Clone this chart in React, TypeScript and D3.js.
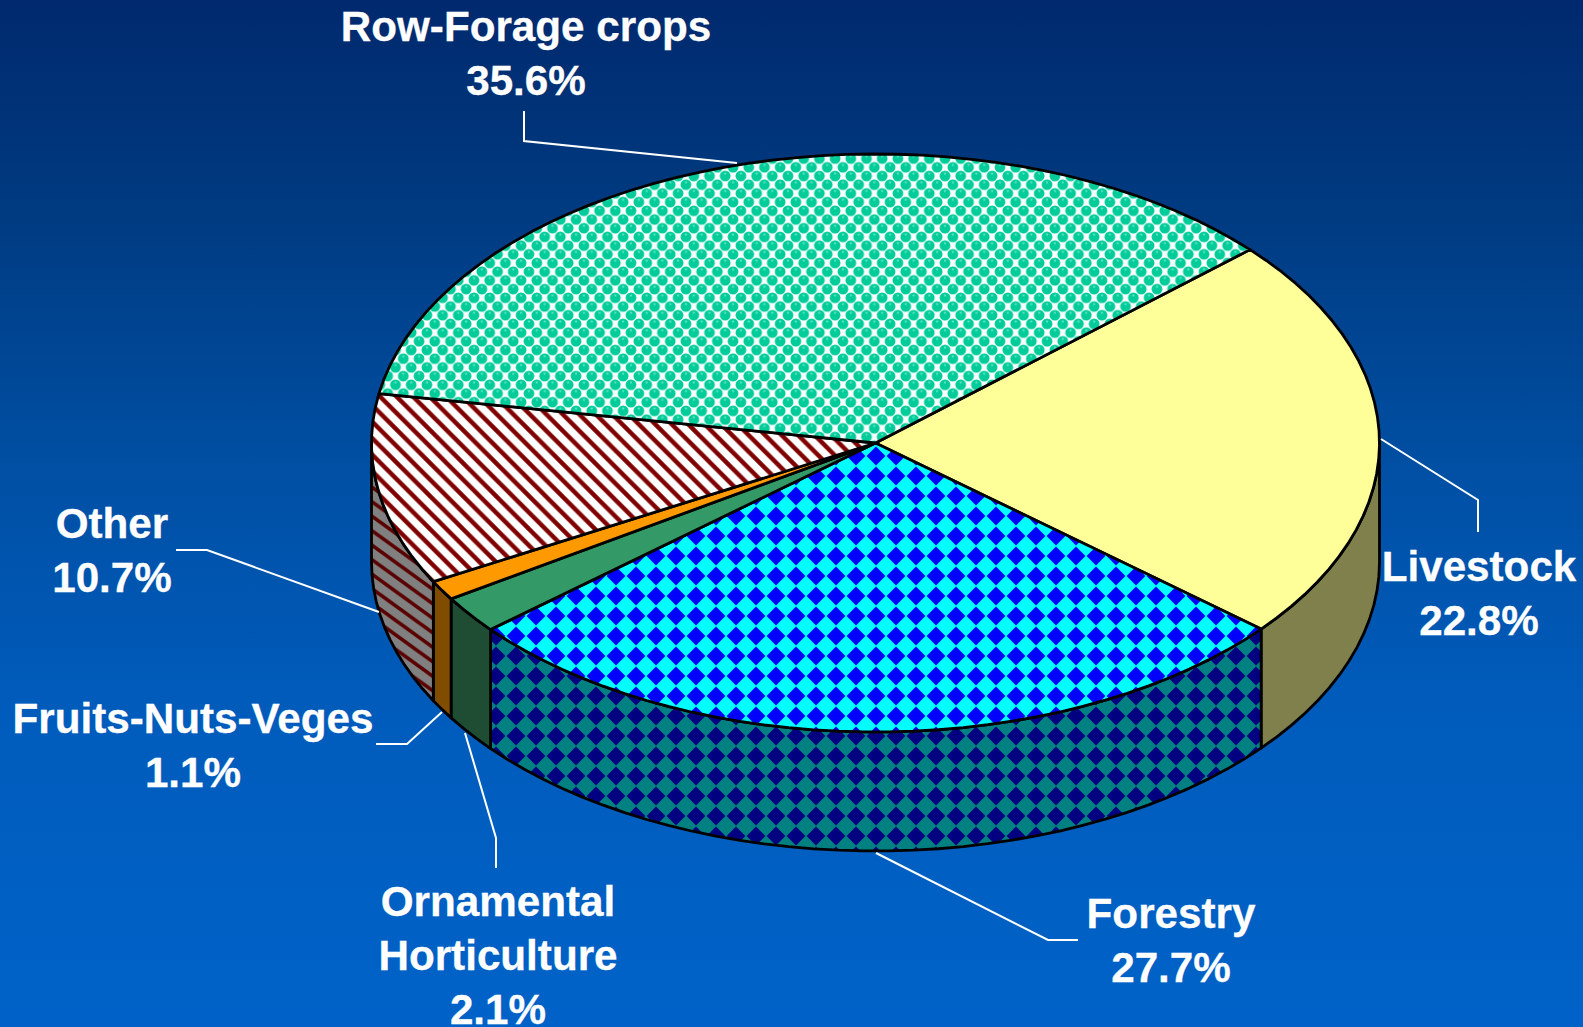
import React from "react";
import * as d3 from "d3";

const categories = ["Livestock", "Forestry", "Ornamental Horticulture", "Fruits-Nuts-Veges", "Other", "Row-Forage crops"];
const shares = [22.8, 27.7, 2.1, 1.1, 10.7, 35.6];
const topFills = ["#ffff99", "url(#diamondTop)", "#339966", "#ff9900", "url(#hatchTop)", "url(#bubbles)"];
const sideFills = ["#80804d", "url(#diamondSide)", "#1f4d33", "#804d00", "url(#hatchSide)", "#006650"];

const labelLines = [
  ["Livestock", "22.8%"],
  ["Forestry", "27.7%"],
  ["Ornamental", "Horticulture", "2.1%"],
  ["Fruits-Nuts-Veges", "1.1%"],
  ["Other", "10.7%"],
  ["Row-Forage crops", "35.6%"],
];
const labelX = [1479, 1171, 498, 193, 112, 526];
const labelY = [581, 928, 916, 733, 538, 41];
const leaders: [number, number][][] = [
  [[1381, 439], [1478, 500], [1478, 532]],
  [[876, 853], [1048, 940], [1078, 940]],
  [[465, 733], [496, 838], [496, 868]],
  [[376, 744], [407, 744], [442, 712]],
  [[176, 550], [207, 550], [379, 612]],
  [[524, 111], [524, 141], [737, 163]],
];

const W = 1583, H = 1027;
const CX = 875.5, CY = 443, RX = 504, RY = 289, DEPTH = 119;
const START = (48 * Math.PI) / 180;

const xAt = d3.scaleLinear().domain([-1, 1]).range([CX - RX, CX + RX]);
const yAt = d3.scaleLinear().domain([-1, 1]).range([CY + RY, CY - RY]);
const pt = (a: number, dz = 0): [number, number] => [xAt(Math.sin(a)), yAt(Math.cos(a)) + dz];
const line = d3.line();

const arcPts = (a0: number, a1: number, dz = 0) => {
  const n = Math.max(2, Math.ceil((a1 - a0) / 0.05));
  return d3.range(n + 1).map((i) => pt(a0 + ((a1 - a0) * i) / n, dz));
};

const BW = 15.7, BH = 17.4;
const DW = 20, DH = 20, DR = 9.4;
const diamond = `M${DW / 2} ${DH / 2 - DR}L${DW / 2 + DR} ${DH / 2}L${DW / 2} ${DH / 2 + DR}L${DW / 2 - DR} ${DH / 2}Z`;
const SW = 20, SH = 14.5;

export default function App() {
  const arcs = d3.pie<number>().sort(null).startAngle(START).endAngle(START + 2 * Math.PI)(shares);
  const frontA = Math.PI / 2, frontB = (3 * Math.PI) / 2;
  const ink = { stroke: "#000", strokeWidth: 2.8, strokeLinejoin: "round" as const };
  return (
    <svg width={W} height={H} style={{ position: "absolute", left: 0, top: 0, display: "block" }}>
      <defs>
        <linearGradient id="bg" x1="0" y1="0" x2="0" y2="1">
          <stop offset="0" stopColor="#00296e" />
          <stop offset="0.2" stopColor="#003a80" />
          <stop offset="0.45" stopColor="#004fa3" />
          <stop offset="0.7" stopColor="#005cbc" />
          <stop offset="1" stopColor="#0062c8" />
        </linearGradient>
        <radialGradient id="ball" cx="0.5" cy="0.28" r="0.72">
          <stop offset="0" stopColor="#7fecd0" />
          <stop offset="0.22" stopColor="#00cc99" />
          <stop offset="1" stopColor="#00cc99" />
        </radialGradient>
        <pattern id="bubbles" width={BW} height={BH} patternUnits="userSpaceOnUse" x="3" y="2">
          <rect width={BW} height={BH} fill="#fff" />
          {[[0, 0], [BW, 0], [0, BH], [BW, BH], [BW / 2, BH / 2]].map(([x, y], i) => (
            <circle key={i} cx={x} cy={y} r={5.4} fill="url(#ball)" />
          ))}
        </pattern>
        <pattern id="diamondTop" width={DW} height={DH} patternUnits="userSpaceOnUse" x="6" y="6">
          <rect width={DW} height={DH} fill="#00ffff" />
          <path d={diamond} fill="#0000ff" />
        </pattern>
        <pattern id="diamondSide" width={DW} height={DH} patternUnits="userSpaceOnUse" x="6" y="6">
          <rect width={DW} height={DH} fill="#008080" />
          <path d={diamond} fill="#000080" />
        </pattern>
        <pattern id="hatchTop" width="16.5" height="16.5" patternUnits="userSpaceOnUse">
          <rect width="16.5" height="16.5" fill="#fff" />
          <path d="M-4 -4L20.5 20.5M-4 12.5L4 20.5M12.5 -4L20.5 4" stroke="#800000" strokeWidth={4.4} />
        </pattern>
        <pattern id="hatchSide" width={SW} height={SH} patternUnits="userSpaceOnUse">
          <rect width={SW} height={SH} fill="#808080" />
          <path
            d={`M${-SW} ${-SH}L${2 * SW} ${2 * SH}M${-SW} 0L${SW} ${2 * SH}M0 ${-SH}L${2 * SW} ${SH}`}
            stroke="#5a0000"
            strokeWidth={3.6}
          />
        </pattern>
      </defs>
      <rect width={W} height={H} fill="url(#bg)" />

      {arcs.map((s, i) => {
        const a0 = Math.max(s.startAngle, frontA);
        const a1 = Math.min(s.endAngle, frontB);
        if (a1 <= a0) return null;
        const d = [...arcPts(a0, a1), ...arcPts(a0, a1, DEPTH).reverse()];
        return <path key={categories[i]} d={line(d) + "Z"} fill={sideFills[i]} {...ink} />;
      })}

      {arcs.map((s, i) => {
        const d: [number, number][] = [[CX, CY], ...arcPts(s.startAngle, s.endAngle)];
        return <path key={categories[i]} d={line(d) + "Z"} fill={topFills[i]} {...ink} />;
      })}

      {leaders.map((l, i) => (
        <path key={i} d={line(l) ?? ""} fill="none" stroke="#fff" strokeWidth={2} />
      ))}

      {labelLines.map((lines, i) => (
        <text
          key={i}
          x={labelX[i]}
          y={labelY[i]}
          textAnchor="middle"
          fontFamily="'Liberation Sans', Arial, sans-serif"
          fontWeight={700}
          fontSize={42.2}
          fill="#fff"
          stroke="#fff"
          strokeWidth={0.3}
        >
          {lines.map((t, j) => (
            <tspan key={j} x={labelX[i]} dy={j === 0 ? 0 : 54}>
              {t}
            </tspan>
          ))}
        </text>
      ))}
    </svg>
  );
}
